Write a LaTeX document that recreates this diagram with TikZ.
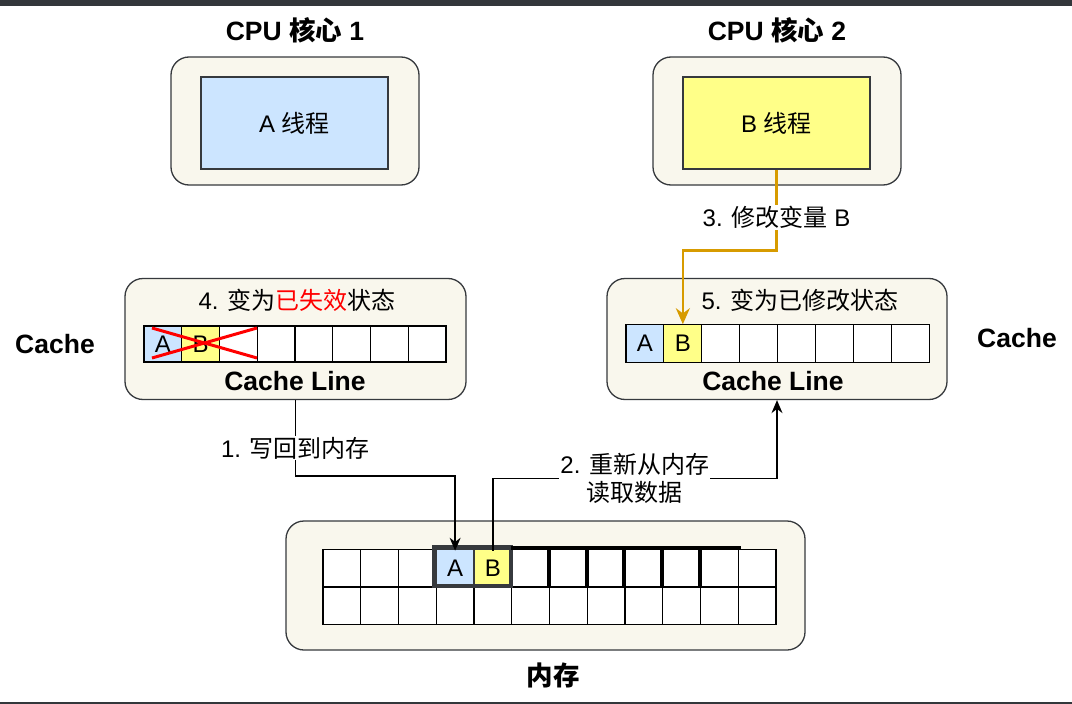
\documentclass[tikz,border=0pt]{standalone}
\usepackage{fontspec}
\setmainfont{Liberation Sans}
\newfontfamily\cjk{Noto Sans CJK SC}
\newcommand{\zh}[1]{{\cjk #1}}
\usetikzlibrary{arrows.meta, positioning}
\definecolor{fondbox}{HTML}{F9F7ED}
\definecolor{trait}{HTML}{36393D}
\definecolor{bleu}{HTML}{CCE5FF}
\definecolor{jaune}{HTML}{FFFF88}
\definecolor{ocre}{HTML}{D79B00}
\definecolor{barre}{HTML}{33373B}
\begin{document}
\begin{tikzpicture}[x=1pt, y=-1pt,
    boite/.style={draw=trait, fill=fondbox, rounded corners=18pt, line width=1.3pt, inner sep=0pt},
    cell/.style={draw=black, line width=1.1pt, minimum width=37.75pt, minimum height=37.5pt, inner sep=0pt, font=\fontsize{24}{28}\selectfont},
    txt/.style={font=\fontsize{24}{28}\selectfont},
    titre/.style={font=\fontsize{26.5}{30}\selectfont\bfseries},
    fleche/.style={-{Stealth[length=13pt, width=11pt]}, line width=1.4pt}]
    \useasboundingbox (0,0) rectangle (1072,704);
    \fill[white] (0,0) rectangle (1072,704);
    \fill[barre] (0,0) rectangle (1072,6);
    \fill[barre] (0,702) rectangle (1072,704);
    % coeurs CPU
    \node[titre] (t1) at (295,30) {CPU \zh{核心} 1};
    \node[titre] (t2) at (777,30) {CPU \zh{核心} 2};
    \node[boite, minimum width=248pt, minimum height=128pt] (cpu1) at (295,121) {};
    \node[boite, minimum width=248pt, minimum height=128pt] (cpu2) at (777,121) {};
    \node[draw=trait, fill=bleu, line width=1.3pt, minimum width=187pt, minimum height=92pt, txt] (thrA) at (294.5,123) {A \zh{线程}};
    \node[draw=trait, fill=jaune, line width=1.3pt, minimum width=187pt, minimum height=92pt, txt] (thrB) at (776.5,123) {B \zh{线程}};
    % caches
    \node[titre] (cacheG) at (55,344) {Cache};
    \node[titre] (cacheD) at (1017,338) {Cache};
    \node[boite, minimum width=341pt, minimum height=121pt] (cacheL) at (295.5,339) {};
    \node[boite, minimum width=340pt, minimum height=121pt] (cacheR) at (777,339) {};
    \node[txt] (etat4) at (297,300) {4. \zh{变为\textcolor{red}{已失效}状态}};
    \node[txt] (etat5) at (800,300) {5. \zh{变为已修改状态}};
    \foreach \i/\c/\t in {1/bleu/A, 2/jaune/B, 3/white/, 4/white/, 5/white/, 6/white/, 7/white/, 8/white/} {
        \node[cell, fill=\c, minimum height=36pt] (cL\i) at ({144+37.75*(\i-0.5)},344) {\t};
        \node[cell, fill=\c, minimum width=37.9pt] (cR\i) at ({626+37.9*(\i-0.5)},343.5) {\t};
    }
    \draw[red, line width=3pt] (152,328) -- (257,358);
    \draw[red, line width=3pt] (152,358) -- (257,328);
    \node[titre] (clL) at (295,381) {Cache Line};
    \node[titre] (clR) at (773,381) {Cache Line};
    % memoire
    \node[boite, minimum width=519pt, minimum height=129pt] (mem) at (545.5,585.5) {};
    \node[titre] (memlbl) at (553,675) {\zh{内存}};
    \foreach \r/\y in {1/568, 2/606}
        \foreach \j in {1,...,12}
            \node[cell, fill=white] (m\r-\j) at ({323+37.75*(\j-0.5)},\y) {};
    \node[cell, fill=bleu, draw=trait] (mA) at (m1-4) {A};
    \node[cell, fill=jaune, draw=trait] (mB) at (m1-5) {B};
    \draw[trait, line width=4pt] (434,547) rectangle (511,586);
    \draw[line width=4pt] (511,548) -- (741,548);
    \foreach \j in {7,...,11}
        \draw[line width=4pt] (m1-\j.north west) -- (m1-\j.south west);
    % trajets
    \draw[fleche] (cacheL.south) -- ++(0,76) node[pos=0.63, fill=white, txt, inner sep=1pt] {1. \zh{写回到内存}} -| ([yshift=-2pt]mA.north);
    \draw[fleche] ([yshift=-2pt]mB.north) -- ++(0,-72) -| node[pos=0.25, fill=white, txt, align=center, inner sep=1pt] {2. \zh{重新从内存}\\\zh{读取数据}} (cacheR.south);
    \draw[ocre, line width=2.4pt, -{Stealth[length=16pt, width=14pt]}] (thrB.south) -- ++(0,81) node[pos=0.59, fill=white, txt, text=black, inner sep=1pt] {3. \zh{修改变量} B} -| (cR2.north);
\end{tikzpicture}
\end{document}
